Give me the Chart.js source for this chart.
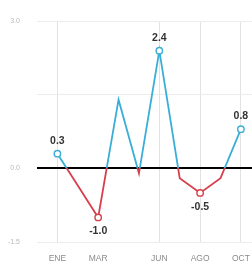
<!DOCTYPE html>
<html><head><meta charset="utf-8">
<script src="https://cdn.jsdelivr.net/npm/chart.js@4/dist/chart.umd.min.js"></script>
<style>
html,body{margin:0;padding:0;background:#fff;overflow:hidden;width:252px;height:274px;}
#wrap{position:relative;width:310px;height:274px;}
</style></head>
<body>
<div id="wrap"><canvas id="c" width="310" height="274"></canvas></div>
<script>
const months = ['ENE','FEB','MAR','ABR','MAY','JUN','JUL','AGO','SEP','OCT'];
const values = [0.3, -0.35, -1.0, 1.4, -0.1, 2.4, -0.2, -0.5, -0.2, 0.8];
const shownMonths = ['ENE','MAR','JUN','AGO','OCT'];
const gridMonths = ['ENE','JUN','AGO','OCT'];
const yTicks = [-1.5, 0, 1.5, 3.0];
const yLabelTicks = [-1.5, 0, 3.0];

const BLUE = '#3aaed6', RED = '#d6404c';
const points = values.map((v,i)=>({x:i+1, y:v}));
const shownIdx = months.map((m,i)=>shownMonths.includes(m)?i:-1).filter(i=>i>=0);

const labelPlugin = {
  id:'vlabels',
  afterDatasetsDraw(chart){
    const c = chart.ctx, meta = chart.getDatasetMeta(0);
    c.save();
    c.font = 'bold 10.5px "Liberation Sans Narrow","Liberation Sans",Arial';
    c.fillStyle = '#333';
    c.textAlign = 'center'; c.textBaseline = 'middle';
    shownIdx.forEach(i=>{
      const el = meta.data[i], v = values[i];
      const y = v >= 0 ? el.y - 13 : el.y + 14;
      c.fillText(v.toFixed(1), el.x, y);
    });
    c.restore();
  }
};

function lineGrad(ctx){
  const chart = ctx.chart, area = chart.chartArea;
  if(!area) return BLUE;
  const y0 = chart.scales.y.getPixelForValue(0);
  const g = chart.ctx.createLinearGradient(0, area.top, 0, area.bottom);
  const f = Math.min(1, Math.max(0, (y0-area.top)/(area.bottom-area.top)));
  g.addColorStop(0, BLUE); g.addColorStop(f, BLUE);
  g.addColorStop(f, RED); g.addColorStop(1, RED);
  return g;
}

new Chart(document.getElementById('c'), {
  type:'line',
  data:{datasets:[{
    data: points,
    borderColor: lineGrad,
    borderWidth: 1.8,
    tension: 0,
    pointRadius: ctx => shownIdx.includes(ctx.dataIndex) ? 3.2 : 0,
    pointBackgroundColor:'#fff',
    pointBorderColor: ctx => values[ctx.dataIndex] >= 0 ? BLUE : RED,
    pointBorderWidth: 1.4
  }]},
  options:{
    responsive:false, animation:false,
    layout:{padding:{top:16,right:9,left:0,bottom:0}},
    plugins:{legend:{display:false}, tooltip:{enabled:false}},
    scales:{
      x:{type:'linear', min:0, max:12.8,
        afterFit(s){ s.height = 32; },
        border:{display:false},
        grid:{drawTicks:false,
          color: ctx => (ctx.tick && gridMonths.includes(months[ctx.tick.value-1])) ? '#e2e2e2' : 'rgba(0,0,0,0)',
          lineWidth:1},
        ticks:{stepSize:1, autoSkip:false, maxRotation:0, padding:12,
          color:'#8a8a8a', font:{size:8.5, family:'"Liberation Sans Narrow","Liberation Sans",Arial'},
          callback: v => shownMonths.includes(months[v-1]) ? months[v-1] : ''}
      },
      y:{min:-1.5, max:3.0,
        afterFit(s){ s.width = 37; },
        afterBuildTicks(s){ s.ticks = yTicks.map(v=>({value:v})); },
        border:{display:false},
        grid:{drawTicks:false,
          color: ctx => ctx.tick && ctx.tick.value === 0 ? '#000' : '#ececec',
          lineWidth: ctx => ctx.tick && ctx.tick.value === 0 ? 2 : 1},
        ticks:{padding:17, color:'#b8b8b8', font:{size:7, family:'"Liberation Sans Narrow","Liberation Sans",Arial'},
          callback: v => yLabelTicks.includes(Number(v)) ? Number(v).toFixed(1) : ''}
      }
    }
  },
  plugins:[labelPlugin]
});
</script>
</body></html>
